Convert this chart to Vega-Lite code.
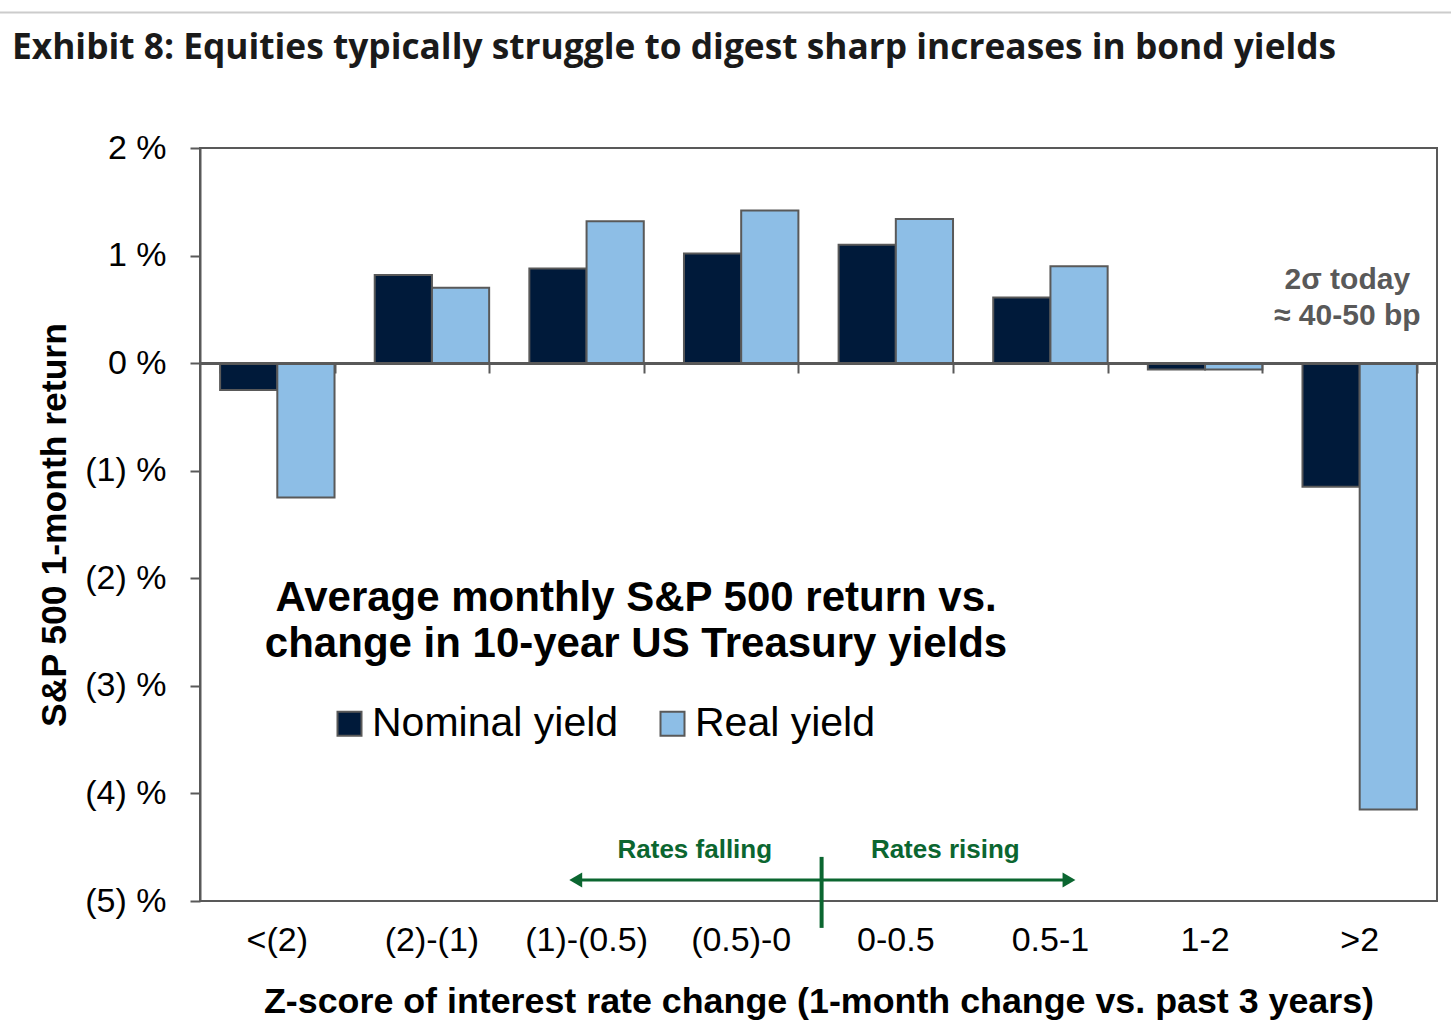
{
  "$schema": "https://vega.github.io/schema/vega-lite/v6.json",
  "description": "Average monthly S&P 500 return vs. change in 10-year US Treasury yields",
  "width": 1237,
  "height": 753,
  "autosize": "none",
  "padding": {"left": 200, "top": 148, "right": 14, "bottom": 127},
  "background": "white",
  "title": {
    "text": "Exhibit 8: Equities typically struggle to digest sharp increases in bond yields",
    "anchor": "start",
    "frame": "group",
    "dx": -188,
    "offset": -83,
    "baseline": "alphabetic",
    "font": "Open Sans",
    "fontSize": 35.3,
    "fontWeight": "bold",
    "color": "#1a1a1a"
  },
  "config": {
    "view": {"stroke": "#595959", "strokeWidth": 2},
    "axis": {"grid": false, "labelFont": "Liberation Sans", "titleFont": "Liberation Sans", "labelColor": "black", "titleColor": "black"}
  },
  "datasets": {
    "returns": [
      {"bucket": "<(2)", "series": "Nominal yield", "ret": -0.25},
      {"bucket": "<(2)", "series": "Real yield", "ret": -1.25},
      {"bucket": "(2)-(1)", "series": "Nominal yield", "ret": 0.82},
      {"bucket": "(2)-(1)", "series": "Real yield", "ret": 0.70},
      {"bucket": "(1)-(0.5)", "series": "Nominal yield", "ret": 0.88},
      {"bucket": "(1)-(0.5)", "series": "Real yield", "ret": 1.32},
      {"bucket": "(0.5)-0", "series": "Nominal yield", "ret": 1.02},
      {"bucket": "(0.5)-0", "series": "Real yield", "ret": 1.42},
      {"bucket": "0-0.5", "series": "Nominal yield", "ret": 1.10},
      {"bucket": "0-0.5", "series": "Real yield", "ret": 1.34},
      {"bucket": "0.5-1", "series": "Nominal yield", "ret": 0.61},
      {"bucket": "0.5-1", "series": "Real yield", "ret": 0.90},
      {"bucket": "1-2", "series": "Nominal yield", "ret": -0.06},
      {"bucket": "1-2", "series": "Real yield", "ret": -0.06},
      {"bucket": ">2", "series": "Nominal yield", "ret": -1.15},
      {"bucket": ">2", "series": "Real yield", "ret": -4.15}
    ]
  },
  "layer": [
    {
      "data": {"name": "returns"},
      "layer": [
        {
          "mark": {"type": "bar", "stroke": "#595959", "strokeWidth": 2},
          "encoding": {
            "x": {
              "field": "bucket",
              "type": "nominal",
              "sort": null,
              "scale": {"paddingInner": 0.26, "paddingOuter": 0.13},
              "axis": {
                "orient": "bottom",
                "title": "Z-score of interest rate change (1-month change vs. past 3 years)",
                "titleFontSize": 35.8,
                "titleFontWeight": "bold",
                "titlePadding": 27,
                "labelFontSize": 34,
                "labelAngle": 0,
                "labelPadding": 22,
                "ticks": false,
                "domain": false
              }
            },
            "xOffset": {"field": "series", "type": "nominal", "sort": null, "scale": {"paddingInner": 0}},
            "y": {
              "field": "ret",
              "type": "quantitative",
              "scale": {"domain": [-5, 2], "nice": false, "zero": false},
              "axis": {
                "title": "S&P 500 1-month return",
                "titleFontSize": 35.5,
                "titleFontWeight": "bold",
                "titlePadding": 12,
                "values": [-5, -4, -3, -2, -1, 0, 1, 2],
                "labelExpr": "datum.value < 0 ? '(' + abs(datum.value) + ') %' : datum.value + ' %'",
                "labelFontSize": 34,
                "labelPadding": 24,
                "tickSize": 10,
                "tickColor": "#595959",
                "tickWidth": 2,
                "domainColor": "#595959",
                "domainWidth": 2
              }
            },
            "fill": {
              "field": "series",
              "type": "nominal",
              "scale": {"domain": ["Nominal yield", "Real yield"], "range": ["#001A3A", "#8DBEE6"]},
              "legend": {
                "orient": "none",
                "legendX": 129,
                "legendY": 555,
                "direction": "horizontal",
                "title": null,
                "padding": 0,
                "symbolType": "square",
                "symbolSize": 576,
                "symbolStrokeColor": "#595959",
                "symbolStrokeWidth": 2,
                "symbolOpacity": 1,
                "labelFontSize": 41,
                "labelFont": "Liberation Sans",
                "labelColor": "black",
                "labelLimit": 0,
                "labelOffset": 2,
                "columnPadding": 33
              }
            }
          }
        },
        {
          "mark": {"type": "point", "opacity": 0},
          "encoding": {
            "x": {
              "field": "bucket",
              "type": "nominal",
              "sort": null,
              "axis": {
                "orient": "top",
                "offset": -215,
                "title": null,
                "labels": false,
                "domain": false,
                "tickBand": "extent",
                "tickSize": -10,
                "tickColor": "#595959",
                "tickWidth": 2
              }
            },
            "y": {"datum": 0, "type": "quantitative"}
          }
        },
        {
          "mark": {"type": "rule", "stroke": "#595959", "strokeWidth": 2.5},
          "encoding": {"y": {"datum": 0, "type": "quantitative"}}
        }
      ],
      "resolve": {"axis": {"x": "independent"}}
    },
    {
      "data": {"values": [{}]},
      "layer": [
        {
          "mark": {"type": "rule", "stroke": "#cccccc", "strokeWidth": 2},
          "encoding": {
            "x": {"datum": -1.3, "type": "quantitative", "scale": {"domain": [0, 8], "nice": false, "zero": false}, "axis": null},
            "x2": {"datum": 8.1},
            "y": {"datum": 3.26, "type": "quantitative"}
          }
        },
        {
          "mark": {"type": "rule", "stroke": "#0B6630", "strokeWidth": 3},
          "encoding": {
            "x": {"datum": 2.43, "type": "quantitative"},
            "x2": {"datum": 5.62},
            "y": {"datum": -4.805, "type": "quantitative"}
          }
        },
        {
          "mark": {"type": "point", "shape": "triangle-left", "filled": true, "fill": "#0B6630", "size": 220, "opacity": 1},
          "encoding": {
            "x": {"datum": 2.43, "type": "quantitative"},
            "y": {"datum": -4.805, "type": "quantitative"}
          }
        },
        {
          "mark": {"type": "point", "shape": "triangle-right", "filled": true, "fill": "#0B6630", "size": 220, "opacity": 1},
          "encoding": {
            "x": {"datum": 5.62, "type": "quantitative"},
            "y": {"datum": -4.805, "type": "quantitative"}
          }
        },
        {
          "mark": {"type": "rule", "stroke": "#0B6630", "strokeWidth": 4},
          "encoding": {
            "x": {"datum": 4.02, "type": "quantitative"},
            "y": {"datum": -4.59, "type": "quantitative"},
            "y2": {"datum": -5.25}
          }
        },
        {
          "mark": {"type": "text", "text": "Rates falling", "font": "Liberation Sans", "fontSize": 26, "fontWeight": "bold", "fill": "#0B6630", "align": "center", "baseline": "middle"},
          "encoding": {
            "x": {"datum": 3.2, "type": "quantitative"},
            "y": {"datum": -4.53, "type": "quantitative"}
          }
        },
        {
          "mark": {"type": "text", "text": "Rates rising", "font": "Liberation Sans", "fontSize": 26, "fontWeight": "bold", "fill": "#0B6630", "align": "center", "baseline": "middle"},
          "encoding": {
            "x": {"datum": 4.82, "type": "quantitative"},
            "y": {"datum": -4.53, "type": "quantitative"}
          }
        },
        {
          "mark": {"type": "text", "text": ["Average monthly S&P 500 return vs.", "change in 10-year US Treasury yields"], "font": "Liberation Sans", "fontSize": 42, "fontWeight": "bold", "fill": "black", "align": "center", "baseline": "top", "lineHeight": 46},
          "encoding": {
            "x": {"datum": 2.82, "type": "quantitative"},
            "y": {"datum": -2.0, "type": "quantitative"}
          }
        },
        {
          "mark": {"type": "text", "text": ["2σ today", "≈ 40-50 bp"], "font": "Liberation Sans", "fontSize": 30, "fontWeight": "bold", "fill": "#595959", "align": "center", "baseline": "top", "lineHeight": 36},
          "encoding": {
            "x": {"datum": 7.42, "type": "quantitative"},
            "y": {"datum": 0.91, "type": "quantitative"}
          }
        }
      ]
    }
  ],
  "resolve": {"scale": {"x": "independent"}, "axis": {"x": "independent"}}
}
